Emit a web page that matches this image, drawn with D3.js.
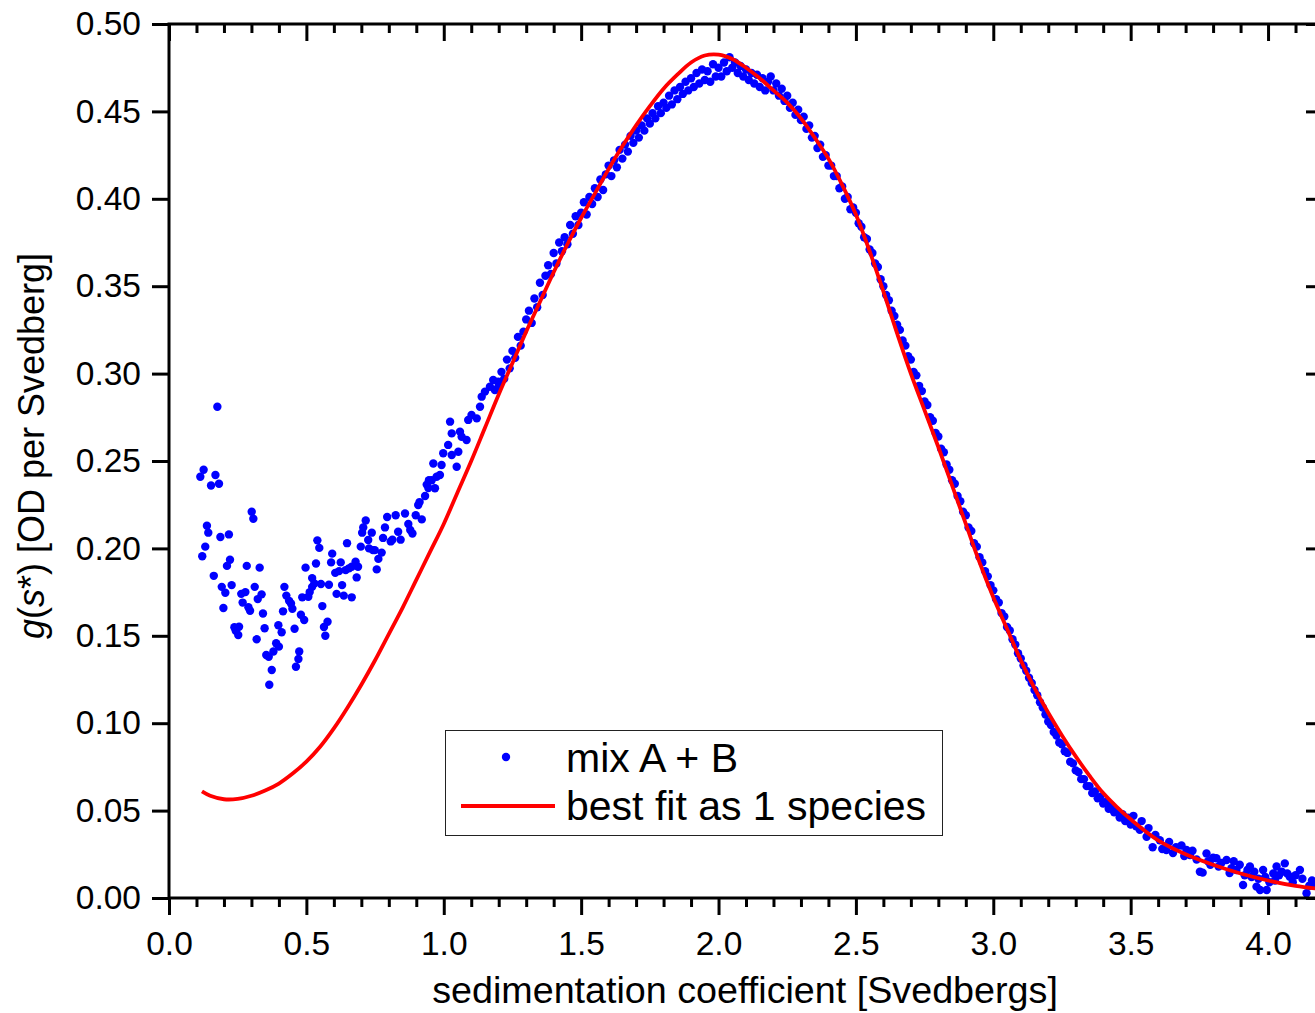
<!DOCTYPE html>
<html lang="en">
<head>
<meta charset="UTF-8">
<script src="https://d3js.org/d3.v7.min.js"></script>
<title>g(s*) fit</title>
<style>
    body { margin: 0; background: white; }
    svg { display: block; font-family: "Liberation Sans", Arial, sans-serif; }
</style>
</head>
<body>
<script>
    /*------------------- data -------------------*/
    // x ticks / y ticks
    const xMajor = [0, 0.5, 1.0, 1.5, 2.0, 2.5, 3.0, 3.5, 4.0];
    const yMajor = [0, 0.05, 0.10, 0.15, 0.20, 0.25, 0.30, 0.35, 0.40, 0.45, 0.50];

    // best fit as 1 species (s, g)
    const fitS = [0.12, 0.15, 0.2, 0.25, 0.3, 0.35, 0.4, 0.45, 0.5, 0.55, 0.6, 0.65, 0.7, 0.75, 0.8, 0.85, 0.9, 0.95,
        1.0, 1.05, 1.1, 1.15, 1.2, 1.25, 1.3, 1.35, 1.4, 1.45, 1.5, 1.55, 1.6, 1.65, 1.7, 1.75, 1.8, 1.85, 1.9, 1.95,
        2.0, 2.05, 2.1, 2.15, 2.2, 2.25, 2.3, 2.35, 2.4, 2.45, 2.5, 2.55, 2.6, 2.65, 2.7, 2.75, 2.8, 2.85, 2.9, 2.95,
        3.0, 3.05, 3.1, 3.15, 3.2, 3.25, 3.3, 3.35, 3.4, 3.45, 3.5, 3.6, 3.7, 3.8, 3.9, 4.0, 4.1, 4.2];
    const fitG = [0.061, 0.0585, 0.0565, 0.0567, 0.0585, 0.0615, 0.0655, 0.0712, 0.078, 0.0865, 0.097, 0.109, 0.122, 0.136, 0.151, 0.166, 0.182, 0.198,
        0.214, 0.232, 0.250, 0.269, 0.288, 0.306, 0.324, 0.341, 0.358, 0.374, 0.389, 0.403, 0.417, 0.430, 0.442, 0.453, 0.463, 0.471, 0.478, 0.482,
        0.4825, 0.480, 0.475, 0.469, 0.462, 0.455, 0.446, 0.435, 0.423, 0.408, 0.391, 0.370, 0.347, 0.323, 0.300, 0.279, 0.258, 0.236, 0.214, 0.192,
        0.172, 0.154, 0.136, 0.120, 0.106, 0.093, 0.081, 0.070, 0.060, 0.052, 0.045, 0.033, 0.025, 0.019, 0.014, 0.010, 0.007, 0.005];

    // mix A + B, noisy low-s part
    const mixLow = [[0.176,0.281],[0.126,0.245],[0.114,0.241],[0.169,0.242],[0.153,0.236],[0.182,0.237],[0.301,0.221],[0.307,0.217],[0.138,0.213],[0.143,0.209],[0.187,0.2065],[0.218,0.208],[0.132,0.201],[0.121,0.1955],[0.222,0.1935],[0.211,0.190],[0.283,0.190],[0.330,0.189],[0.163,0.1843],[0.192,0.178],[0.205,0.1746],[0.228,0.179],[0.263,0.174],[0.278,0.175],[0.312,0.178],[0.337,0.1737],[0.323,0.171],[0.268,0.169],[0.289,0.1663],[0.295,0.1643],[0.198,0.1659],[0.342,0.1628],[0.238,0.1549],[0.255,0.1552],[0.243,0.1529],[0.252,0.1505],[0.319,0.148],[0.348,0.1543],[0.42,0.178],[0.427,0.173],[0.437,0.170],[0.444,0.1685],[0.449,0.1655],[0.415,0.164],[0.398,0.156],[0.41,0.152],[0.39,0.1457],[0.40,0.1438],[0.38,0.141],[0.354,0.139],[0.363,0.138],[0.374,0.1304],[0.365,0.122],[0.457,0.154],[0.474,0.141],[0.471,0.1367],[0.462,0.1323],[0.480,0.162],[0.492,0.159],[0.485,0.172],[0.507,0.1723],[0.512,0.175],[0.521,0.178],[0.529,0.180],[0.521,0.183],[0.497,0.189],[0.535,0.1914],[0.540,0.2046],[0.547,0.2003],[0.553,0.1796],[0.582,0.1792],[0.558,0.167],[0.564,0.155],[0.577,0.158],[0.569,0.150],[0.594,0.197],[0.590,0.192],[0.605,0.186],[0.619,0.187],[0.625,0.192],[0.610,0.174],[0.630,0.179],[0.636,0.173],[0.665,0.172],[0.648,0.203],[0.643,0.1876],[0.655,0.1886],[0.665,0.1895],[0.679,0.1924],[0.688,0.1895],[0.683,0.1834],[0.698,0.201],[0.716,0.216],[0.703,0.209],[0.707,0.212],[0.725,0.2048],[0.738,0.209],[0.728,0.200],[0.742,0.199],[0.756,0.188],[0.762,0.194],[0.774,0.1976],[0.749,0.199],[0.779,0.206],[0.786,0.212],[0.794,0.218],[0.807,0.204],[0.813,0.205],[0.825,0.219],[0.859,0.220],[0.834,0.2095],[0.843,0.205],[0.871,0.214],[0.886,0.2085],[0.878,0.2105],[0.898,0.219],[0.920,0.2166],[0.907,0.2248],[0.912,0.2265],[0.932,0.230],[0.946,0.239],[0.944,0.2345],
        [0.938,0.2365],[0.956,0.239],[0.968,0.2344],[0.974,0.241],[0.986,0.242],[0.962,0.2486],[0.992,0.2477],[0.998,0.2544],[1.016,0.2592],[1.029,0.2534],[1.047,0.2467],[1.053,0.2553],[1.023,0.2725],[1.029,0.2658],[1.059,0.2668],[1.065,0.2639],[1.083,0.262],[1.089,0.2735],[1.101,0.2763],[1.12,0.2744],[1.132,0.281],[1.138,0.2868],[1.15,0.2897],[1.168,0.2925],[1.186,0.2906],[1.18,0.2963],[1.198,0.2953]];

    // mix A + B, main peak (s from 1.20 in steps of 0.01)
    const peakS0 = 1.20;
    const mixPeakG = [
        0.293, 0.301, 0.297, 0.308, 0.303, 0.313, 0.309, 0.321, 0.316, 0.324,
        0.331, 0.336, 0.329, 0.343, 0.338, 0.352, 0.345, 0.356, 0.362, 0.357,
        0.369, 0.363, 0.375, 0.370, 0.378, 0.374, 0.385, 0.380, 0.390, 0.385,
        0.392, 0.398, 0.391, 0.401, 0.397, 0.406, 0.401, 0.411, 0.405, 0.414,
        0.419, 0.413, 0.422, 0.418, 0.428, 0.423, 0.431, 0.427, 0.436, 0.432,
        0.439, 0.435, 0.442, 0.439, 0.446, 0.443, 0.449, 0.446, 0.453, 0.449,
        0.455, 0.452, 0.459, 0.454, 0.462, 0.457, 0.464, 0.460, 0.467, 0.462,
        0.469, 0.464, 0.472, 0.466, 0.474, 0.468, 0.473, 0.467, 0.477, 0.470,
        0.475, 0.470, 0.478, 0.473, 0.481, 0.475, 0.478, 0.472, 0.476, 0.470,
        0.474, 0.468, 0.472, 0.466, 0.471, 0.464, 0.469, 0.462, 0.467, 0.470,
        0.462, 0.466, 0.459, 0.463, 0.456, 0.459, 0.452, 0.455, 0.448, 0.451,
        0.445, 0.447, 0.440, 0.442, 0.435, 0.436, 0.429, 0.431, 0.424, 0.425,
        0.419, 0.419, 0.413, 0.413, 0.406, 0.407, 0.400, 0.401, 0.394, 0.395,
        0.392, 0.386, 0.384, 0.378, 0.377, 0.371, 0.369, 0.363, 0.361, 0.354,
        0.350, 0.345, 0.342, 0.336, 0.333, 0.328, 0.325, 0.319, 0.316, 0.310,
        0.308, 0.301, 0.299, 0.293, 0.290, 0.284, 0.282, 0.275, 0.273, 0.266,
        0.264, 0.257, 0.255, 0.248, 0.245, 0.239, 0.237, 0.230, 0.227, 0.221,
        0.219, 0.212, 0.210, 0.203, 0.201, 0.195, 0.192, 0.187, 0.184, 0.179,
        0.176, 0.171, 0.169, 0.163, 0.161, 0.155, 0.153, 0.148, 0.145, 0.140,
        0.137, 0.133, 0.130, 0.126, 0.123, 0.119, 0.116, 0.112, 0.109, 0.105,
        0.101, 0.099, 0.095, 0.093, 0.089, 0.088, 0.084, 0.083, 0.078, 0.077,
        0.073, 0.072, 0.068, 0.068, 0.064, 0.064, 0.060, 0.061, 0.057, 0.058,
        0.054, 0.055, 0.051, 0.053, 0.049, 0.050, 0.046, 0.048, 0.044, 0.046,
        0.042];

    // mix A + B, tail
    const mixTail = [[3.51,0.047],[3.52,0.041],[3.533,0.039],[3.54,0.044],[3.558,0.035],[3.565,0.040],[3.58,0.029],[3.59,0.036],[3.606,0.033],[3.615,0.028],[3.63,0.0275],[3.64,0.032],[3.654,0.0257],[3.665,0.029],[3.685,0.030],[3.695,0.024],[3.703,0.0275],[3.716,0.0246],[3.725,0.027],[3.74,0.022],[3.752,0.015],[3.762,0.0145],[3.776,0.0255],[3.782,0.021],[3.79,0.019],[3.8,0.023],[3.812,0.0227],[3.82,0.018],[3.83,0.02],[3.849,0.0217],[3.86,0.0143],[3.867,0.017],[3.875,0.021],[3.885,0.016],[3.897,0.019],[3.909,0.0074],[3.915,0.013],[3.925,0.016],[3.934,0.018],[3.94,0.012],[3.95,0.015],[3.958,0.0065],[3.965,0.011],[3.971,0.0046],[3.982,0.016],[3.99,0.012],[3.995,0.0046],[4.005,0.009],[4.019,0.014],[4.025,0.010],[4.031,0.018],[4.04,0.013],[4.05,0.015],[4.061,0.0198],[4.07,0.014],[4.079,0.0122],[4.09,0.009],[4.1,0.013],[4.116,0.016],[4.125,0.011],[4.14,0.0027],[4.15,0.007],[4.16,0.010],[4.17,0.0086]];

    /*------------------- layout -------------------*/
    const W = 1315, H = 1013;
    const plot = { left: 169, right: 1323, top: 24, bottom: 898 };

    const x = d3.scaleLinear().domain([0, 4.2]).range([plot.left, plot.right]);
    const y = d3.scaleLinear().domain([0, 0.5]).range([plot.bottom, plot.top]);

    const svg = d3.select("body").append("svg")
        .attr("width", W)
        .attr("height", H);

    /*------------------- marks -------------------*/
    const mixPeak = mixPeakG.map((g, i) => [peakS0 + i * 0.01, g]);
    const mix = mixLow.concat(mixPeak, mixTail);

    svg.append("g")
        .selectAll("circle")
        .data(mix)
        .join("circle")
        .attr("cx", d => x(d[0]))
        .attr("cy", d => y(d[1]))
        .attr("r", 4.2)
        .attr("fill", "#0000ff");

    const fit = fitS.map((s, i) => [s, fitG[i]]);
    svg.append("path")
        .datum(fit)
        .attr("fill", "none")
        .attr("stroke", "#ff0000")
        .attr("stroke-width", 3.8)
        .attr("d", d3.line().x(d => x(d[0])).y(d => y(d[1])).curve(d3.curveCatmullRom.alpha(0.5)));

    /*------------------- axes -------------------*/
    const xMinor = d3.range(0, 4.21, 0.1).filter(v => Math.abs(v * 2 - Math.round(v * 2)) > 1e-6);
    const fmt1 = d3.format(".1f"), fmt2 = d3.format(".2f");

    function styleAxis(g) {
        g.select(".domain").remove();
        g.selectAll(".tick line").attr("stroke", "#000").attr("stroke-width", 3);
        g.selectAll("text").attr("fill", "#000").style("font-size", "33.5px");
    }

    // bottom
    svg.append("g").attr("transform", `translate(0,${plot.bottom})`)
        .call(d3.axisBottom(x).tickValues(xMinor).tickSize(9).tickFormat(""))
        .call(styleAxis);
    svg.append("g").attr("transform", `translate(0,${plot.bottom})`)
        .call(d3.axisBottom(x).tickValues(xMajor).tickSize(17).tickPadding(16).tickFormat(fmt1))
        .call(styleAxis);
    // top (inward)
    svg.append("g").attr("transform", `translate(0,${plot.top})`)
        .call(d3.axisBottom(x).tickValues(xMinor).tickSize(9).tickFormat(""))
        .call(styleAxis);
    svg.append("g").attr("transform", `translate(0,${plot.top})`)
        .call(d3.axisBottom(x).tickValues(xMajor).tickSize(17).tickFormat(""))
        .call(styleAxis);
    // left
    svg.append("g").attr("transform", `translate(${plot.left},0)`)
        .call(d3.axisLeft(y).tickValues(yMajor).tickSize(17).tickPadding(11).tickFormat(fmt2))
        .call(styleAxis);
    // right (inward)
    svg.append("g").attr("transform", `translate(${plot.right},0)`)
        .call(d3.axisLeft(y).tickValues(yMajor).tickSize(17).tickFormat(""))
        .call(styleAxis);

    // frame lines
    svg.append("rect")
        .attr("x", plot.left).attr("y", plot.top)
        .attr("width", plot.right - plot.left).attr("height", plot.bottom - plot.top)
        .attr("fill", "none").attr("stroke", "#000").attr("stroke-width", 3);

    /*------------------- titles -------------------*/
    svg.append("text")
        .attr("x", 745).attr("y", 1003)
        .attr("text-anchor", "middle")
        .style("font-size", "37.7px")
        .text("sedimentation coefficient [Svedbergs]");

    const yt = svg.append("text")
        .attr("transform", "translate(44,446) rotate(-90)")
        .attr("text-anchor", "middle")
        .style("font-size", "36px");
    yt.append("tspan").style("font-style", "italic").text("g");
    yt.append("tspan").text("(");
    yt.append("tspan").style("font-style", "italic").text("s");
    yt.append("tspan").text("*) [OD per Svedberg]");

    /*------------------- legend -------------------*/
    const lg = svg.append("g");
    lg.append("rect")
        .attr("x", 445.5).attr("y", 730.5).attr("width", 497).attr("height", 105)
        .attr("fill", "white").attr("stroke", "#222").attr("stroke-width", 1);
    lg.append("circle").attr("cx", 506).attr("cy", 757).attr("r", 4.2).attr("fill", "#0000ff");
    lg.append("line").attr("x1", 461).attr("x2", 555).attr("y1", 806).attr("y2", 806)
        .attr("stroke", "#ff0000").attr("stroke-width", 3.8);
    lg.append("text").attr("x", 566).attr("y", 772).style("font-size", "41px").text("mix A + B");
    lg.append("text").attr("x", 566).attr("y", 820).style("font-size", "41px").text("best fit as 1 species");
</script>
</body>
</html>
